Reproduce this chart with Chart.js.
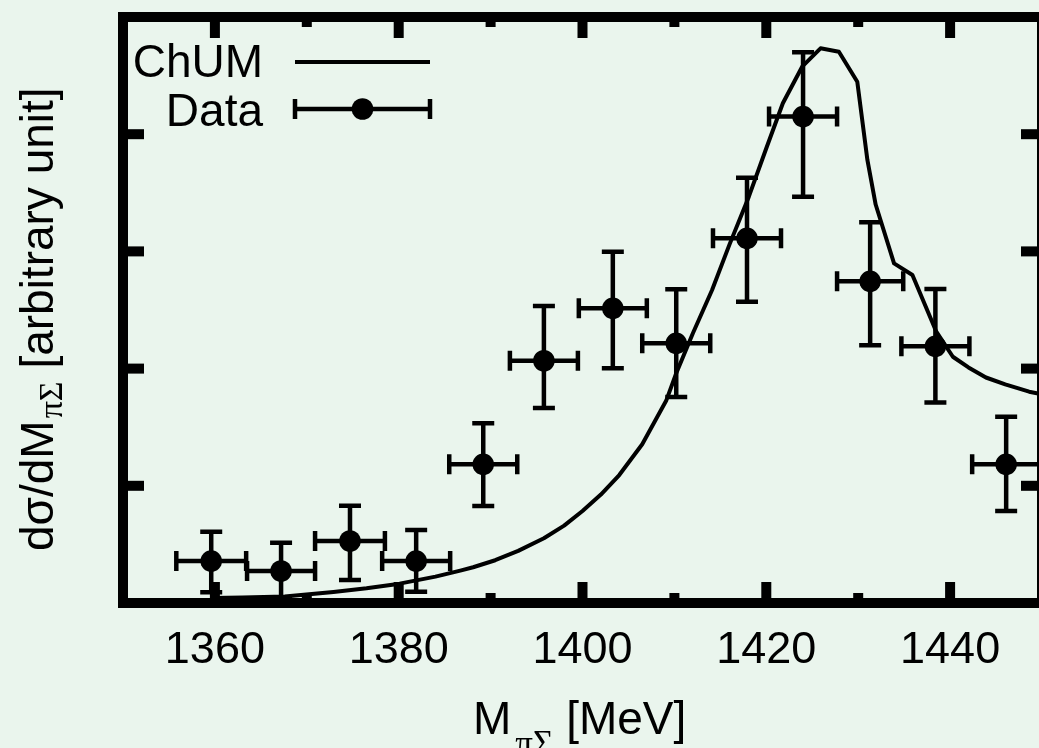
<!DOCTYPE html>
<html>
<head>
<meta charset="utf-8">
<script src="https://cdn.jsdelivr.net/npm/chart.js@4/dist/chart.umd.min.js"></script>
<style>
  html, body { margin: 0; padding: 0; overflow: hidden; background: rgb(234, 245, 237); }
  canvas { display: block; }
</style>
</head>
<body>
<canvas id="c" width="1060" height="748" style="width:1060px;height:748px"></canvas>
<script>
// Invariant mass of the pi-Sigma system [MeV] and measured spectrum (arbitrary unit)
const massCenters = [1359.6, 1367.2, 1374.7, 1381.9, 1389.2, 1395.8, 1403.3, 1410.2, 1417.9, 1424.0, 1431.3, 1438.4, 1446.1];
const yieldValues = [0.358, 0.273, 0.529, 0.358, 1.183, 2.067, 2.514, 2.216, 3.112, 4.150, 2.745, 2.190, 1.183];
const yErrHigh    = [0.250, 0.242, 0.300, 0.265, 0.350, 0.467, 0.483, 0.461, 0.517, 0.549, 0.503, 0.490, 0.407];
const yErrLow     = [0.267, 0.242, 0.333, 0.262, 0.355, 0.403, 0.512, 0.458, 0.541, 0.683, 0.546, 0.480, 0.398];
const xErrHalf    = [3.8, 3.7, 3.8, 3.7, 3.7, 3.7, 3.7, 3.7, 3.7, 3.7, 3.6, 3.7, 3.7];

// ChUM model curve
const curveMass  = [1359.8, 1363.0, 1367.6, 1372.9, 1376.5, 1380.1, 1384.0, 1386.7, 1388.1, 1390.5, 1393.0, 1395.8, 1398.0, 1400.0, 1402.0, 1404.0, 1406.5, 1409.1, 1410.2, 1412.0, 1414.1, 1416.0, 1418.1, 1420.0, 1421.8, 1423.9, 1425.9, 1427.9, 1429.9, 1431.0, 1431.9, 1433.9, 1435.9, 1438.5, 1440.3, 1442.0, 1443.9, 1446.0, 1448.6, 1450.0];
const curveValue = [0.043, 0.047, 0.056, 0.094, 0.125, 0.165, 0.225, 0.276, 0.305, 0.365, 0.445, 0.552, 0.660, 0.785, 0.925, 1.092, 1.355, 1.725, 1.960, 2.300, 2.671, 3.060, 3.467, 3.880, 4.264, 4.576, 4.733, 4.704, 4.448, 3.780, 3.400, 2.898, 2.799, 2.315, 2.101, 2.010, 1.924, 1.865, 1.803, 1.780];

// Axis ticks
const xTickValues = [1360, 1380, 1400, 1420, 1440];
const xMinorValues = [1370, 1390, 1410, 1430];
const yTickValues = [1, 2, 3, 4];

const INK = '#000000';
const SANS = "'Liberation Sans', Arial, Helvetica, sans-serif";
const SERIF = "'Liberation Serif', 'Times New Roman', serif";

// error bars for the measured points, clipped to the plot frame
const errorBarPlugin = {
  id: 'errorBars',
  afterDatasetsDraw(chart) {
    const { ctx, chartArea: a, scales: { x, y } } = chart;
    ctx.save();
    ctx.beginPath();
    ctx.rect(a.left, a.top, a.right - a.left, a.bottom - a.top);
    ctx.clip();
    ctx.strokeStyle = INK;
    ctx.lineWidth = 4.5;
    ctx.lineCap = 'butt';
    const cap = 11;
    massCenters.forEach((m, i) => {
      const px = x.getPixelForValue(m);
      const py = y.getPixelForValue(yieldValues[i]);
      const yHi = y.getPixelForValue(yieldValues[i] + yErrHigh[i]);
      const yLo = y.getPixelForValue(yieldValues[i] - yErrLow[i]);
      const xL = x.getPixelForValue(m - xErrHalf[i]);
      const xR = x.getPixelForValue(m + xErrHalf[i]);
      ctx.beginPath();
      ctx.moveTo(px, yHi); ctx.lineTo(px, yLo);
      ctx.moveTo(px - cap, yHi); ctx.lineTo(px + cap, yHi);
      ctx.moveTo(px - cap, yLo); ctx.lineTo(px + cap, yLo);
      ctx.moveTo(xL, py); ctx.lineTo(xR, py);
      ctx.moveTo(xL, py - 10); ctx.lineTo(xL, py + 10);
      ctx.moveTo(xR, py - 10); ctx.lineTo(xR, py + 10);
      ctx.stroke();
    });
    ctx.restore();
  }
};

// heavy frame with inward ticks, key and axis titles
const framePlugin = {
  id: 'frame',
  afterDraw(chart) {
    const { ctx, chartArea: a, scales: { x, y } } = chart;
    ctx.save();
    ctx.fillStyle = INK;
    ctx.strokeStyle = INK;
    // ticks
    const major = 21, minor = 10, w = 10;
    xTickValues.forEach(v => {
      const px = x.getPixelForValue(v);
      ctx.fillRect(px - w / 2, a.top, w, major);
      ctx.fillRect(px - w / 2, a.bottom - major, w, major);
    });
    xMinorValues.forEach(v => {
      const px = x.getPixelForValue(v);
      ctx.fillRect(px - w / 2, a.top, w, minor);
      ctx.fillRect(px - w / 2, a.bottom - minor, w, minor);
    });
    yTickValues.forEach(v => {
      const py = y.getPixelForValue(v);
      ctx.fillRect(a.left, py - w / 2, major, w);
      ctx.fillRect(a.right - major, py - w / 2, major, w);
    });
    // frame
    ctx.lineWidth = 10;
    ctx.lineJoin = 'miter';
    ctx.strokeRect(a.left, a.top, a.right - a.left, a.bottom - a.top);

    // key
    ctx.font = `46px ${SANS}`;
    ctx.textAlign = 'right';
    ctx.textBaseline = 'alphabetic';
    ctx.fillText('ChUM', 263, 77);
    ctx.fillText('Data', 263, 126);
    ctx.lineWidth = 4;
    ctx.beginPath();
    ctx.moveTo(295, 62); ctx.lineTo(430, 62);
    ctx.stroke();
    ctx.lineWidth = 4.5;
    ctx.beginPath();
    ctx.moveTo(295, 109); ctx.lineTo(430, 109);
    ctx.moveTo(295, 99); ctx.lineTo(295, 119);
    ctx.moveTo(430, 99); ctx.lineTo(430, 119);
    ctx.stroke();
    ctx.beginPath();
    ctx.arc(362.5, 109, 10.8, 0, Math.PI * 2);
    ctx.fill();

    // x title: M_{πΣ} [MeV]
    ctx.textAlign = 'left';
    let tx = 473;
    ctx.font = `46px ${SANS}`;
    ctx.fillText('M', tx, 734);
    tx += ctx.measureText('M').width + 4;
    ctx.font = `35px ${SERIF}`;
    ctx.fillText('πΣ', tx, 755);
    tx += ctx.measureText('πΣ').width;
    ctx.font = `46px ${SANS}`;
    ctx.fillText(' [MeV]', tx, 734);

    // y title: dσ/dM_{πΣ} [arbitrary unit]
    ctx.translate(53, 551);
    ctx.rotate(-Math.PI / 2);
    let ty = 0;
    ctx.font = `46px ${SANS}`;
    ctx.fillText('dσ/dM', ty, 0);
    ty += ctx.measureText('dσ/dM').width + 2;
    ctx.font = `34px ${SERIF}`;
    ctx.fillText('πΣ', ty, 9);
    ty += ctx.measureText('πΣ').width;
    ctx.font = `46px ${SANS}`;
    ctx.fillText(' [arbitrary unit]', ty, 0);
    ctx.restore();
  }
};

new Chart(document.getElementById('c'), {
  data: {
    datasets: [
      {
        type: 'line',
        label: 'ChUM',
        data: curveMass.map((m, i) => ({ x: m, y: curveValue[i] })),
        borderColor: INK,
        borderWidth: 4,
        borderJoinStyle: 'round',
        pointRadius: 0,
        fill: false,
        tension: 0
      },
      {
        type: 'scatter',
        label: 'Data',
        data: massCenters.map((m, i) => ({ x: m, y: yieldValues[i] })),
        backgroundColor: INK,
        borderColor: INK,
        borderWidth: 0,
        pointRadius: 10.8,
        clip: 0
      }
    ]
  },
  options: {
    responsive: false,
    devicePixelRatio: 1,
    animation: false,
    events: [],
    layout: { padding: { left: 123, right: 18, top: 17, bottom: 0 } },
    plugins: { legend: { display: false }, tooltip: { enabled: false } },
    scales: {
      x: {
        type: 'linear',
        min: 1350,
        max: 1450,
        grid: { display: false, drawTicks: false },
        border: { display: false },
        afterBuildTicks: s => { s.ticks = xTickValues.map(v => ({ value: v })); },
        afterFit: s => { s.height = 145; },
        ticks: {
          color: INK,
          font: { family: SANS, size: 45 },
          padding: 21,
          maxRotation: 0,
          autoSkip: false,
          callback: v => String(v)
        }
      },
      y: {
        type: 'linear',
        display: false,
        min: 0,
        max: 5
      }
    }
  },
  plugins: [errorBarPlugin, framePlugin]
});
</script>
</body>
</html>
